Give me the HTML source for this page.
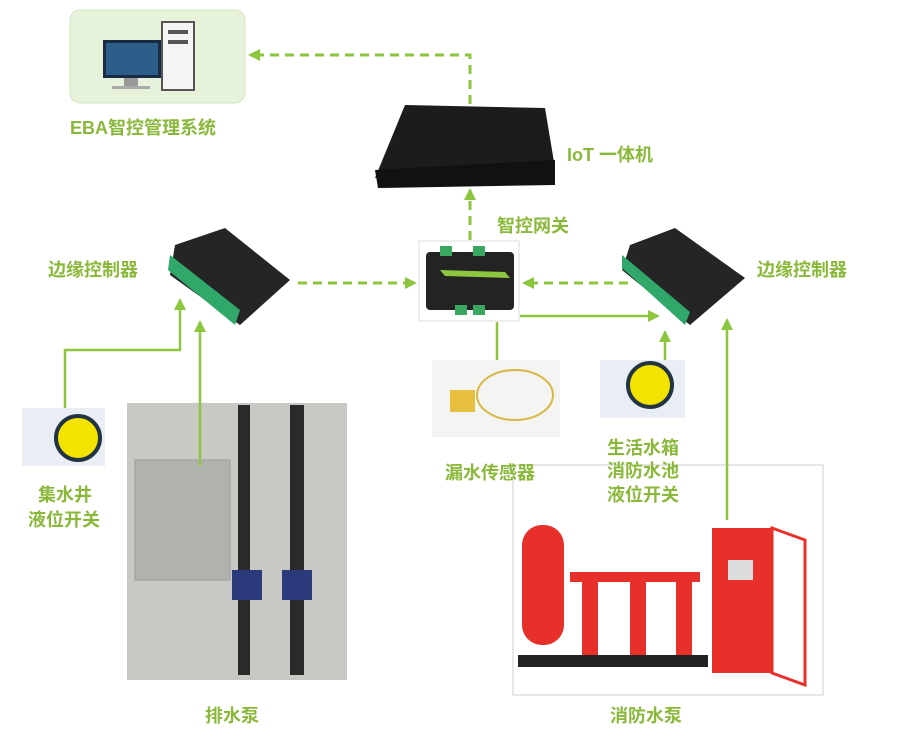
<!DOCTYPE html>
<html><head><meta charset="utf-8"><style>
body{margin:0;background:#fff;width:900px;height:734px;overflow:hidden}
svg text{font-family:"Liberation Sans","Noto Sans CJK SC",sans-serif;font-weight:bold;fill:#8ab83a;font-size:18px}
</style></head><body>
<svg width="900" height="734" viewBox="0 0 900 734" xmlns="http://www.w3.org/2000/svg">
<defs>
<marker id="b" markerWidth="12" markerHeight="12" refX="10" refY="6" orient="auto" markerUnits="userSpaceOnUse"><path d="M0,0 L12,6 L0,12 z" fill="#8cc63f"/></marker>
</defs>
<!-- EBA box -->
<rect x="70" y="10" width="175" height="93" rx="10" fill="#e6f2da" stroke="#d0e4c0"/>
<rect x="103" y="40" width="58" height="38" fill="#1a2a44"/><rect x="106" y="43" width="52" height="32" fill="#2b5f8a"/>
<rect x="124" y="78" width="14" height="8" fill="#999"/><rect x="112" y="86" width="38" height="3" fill="#aaa"/>
<rect x="162" y="22" width="32" height="68" fill="#f4f4f4" stroke="#555" stroke-width="2"/>
<rect x="168" y="30" width="20" height="4" fill="#555"/><rect x="168" y="40" width="20" height="4" fill="#555"/>
<text x="70" y="134">EBA智控管理系统</text>
<!-- IoT -->
<polygon points="405,105 545,108 555,168 375,178" fill="#1c1c1c"/>
<polygon points="375,170 555,160 555,185 378,188" fill="#111"/>
<text x="567" y="161">IoT 一体机</text>
<text x="497" y="232">智控网关</text>
<!-- gateway -->
<rect x="419" y="241" width="100" height="80" fill="#fff" stroke="#ddd"/>
<rect x="426" y="252" width="88" height="58" rx="4" fill="#232323"/>
<rect x="440" y="246" width="12" height="10" fill="#3aa860"/><rect x="473" y="246" width="12" height="10" fill="#3aa860"/>
<rect x="455" y="305" width="12" height="10" fill="#3aa860"/><rect x="473" y="305" width="12" height="10" fill="#3aa860"/>
<polygon points="440,270 505,272 510,278 445,276" fill="#8cc63f"/>
<!-- edge controllers -->
<g><polygon points="175,245 225,228 290,280 240,325 170,275" fill="#252525"/>
<polygon points="170,255 240,310 235,325 168,270" fill="#2fa86a"/></g>
<g><polygon points="630,245 675,228 745,278 690,325 622,270" fill="#252525"/>
<polygon points="622,255 690,312 685,325 622,268" fill="#2fa86a"/></g>
<text x="48" y="276">边缘控制器</text>
<text x="757" y="276">边缘控制器</text>
<!-- float switches -->
<rect x="22" y="408" width="83" height="58" fill="#e8eef4"/><circle cx="78" cy="438" r="22" fill="#f2e400" stroke="#234" stroke-width="4"/>
<rect x="600" y="360" width="85" height="58" fill="#e8eef4"/><circle cx="650" cy="385" r="22" fill="#f2e400" stroke="#234" stroke-width="4"/>
<text x="38" y="501">集水井</text><text x="28" y="526">液位开关</text>
<!-- drain pump photo -->
<rect x="127" y="403" width="220" height="277" fill="#c8c8c4"/>
<rect x="135" y="460" width="95" height="120" fill="#b0b2ae" stroke="#999"/>
<rect x="238" y="405" width="12" height="270" fill="#2a2a2a"/><rect x="290" y="405" width="14" height="270" fill="#2a2a2a"/>
<rect x="232" y="570" width="30" height="30" fill="#2a3a7a"/><rect x="282" y="570" width="30" height="30" fill="#2a3a7a"/>
<text x="205" y="722">排水泵</text>
<!-- leak sensor -->
<rect x="432" y="360" width="128" height="77" fill="#f4f4f2"/>
<ellipse cx="515" cy="395" rx="38" ry="25" fill="none" stroke="#d8b840" stroke-width="2"/>
<rect x="450" y="390" width="25" height="22" fill="#e8c040"/>
<!-- fire pump -->
<rect x="513" y="465" width="310" height="230" fill="#fff" stroke="#ccc"/>
<rect x="522" y="525" width="42" height="120" rx="20" fill="#e8302a"/>
<rect x="582" y="580" width="16" height="75" fill="#e8302a"/><rect x="630" y="580" width="16" height="75" fill="#e8302a"/><rect x="676" y="580" width="16" height="75" fill="#e8302a"/>
<rect x="570" y="572" width="130" height="10" fill="#e8302a"/>
<rect x="518" y="655" width="190" height="12" fill="#222"/>
<rect x="712" y="528" width="60" height="145" fill="#e8302a"/>
<polygon points="772,528 805,540 805,685 772,673" fill="none" stroke="#e8302a" stroke-width="3"/>
<rect x="728" y="560" width="25" height="20" fill="#ddd"/>
<text x="610" y="722">消防水泵</text>
<text x="445" y="479">漏水传感器</text>
<text x="607" y="454">生活水箱</text><text x="607" y="477">消防水池</text><text x="607" y="501">液位开关</text>
<!-- connectors -->
<g stroke="#8cc63f" stroke-width="3" fill="none">
<path d="M470,104 V55 H250" stroke-dasharray="9,6" marker-end="url(#b)"/>
<path d="M470,240 V190" stroke-dasharray="9,6" marker-end="url(#b)"/>
<path d="M298,283 H415" stroke-dasharray="9,6" marker-end="url(#b)"/>
<path d="M628,283 H524" stroke-dasharray="9,6" marker-end="url(#b)"/>
<path d="M65,408 V350 H180 V300" stroke-width="2.5" marker-end="url(#b)"/>
<path d="M200,466 V322" stroke-width="2.5" marker-end="url(#b)"/>
<path d="M520,316 H658" stroke-width="2.5" marker-end="url(#b)"/>
<path d="M497,360 V322" stroke-width="2.5"/>
<path d="M665,360 V332" stroke-width="2.5" marker-end="url(#b)"/>
<path d="M727,520 V320" stroke-width="2.5" marker-end="url(#b)"/>
</g>
</svg>
</body></html>
